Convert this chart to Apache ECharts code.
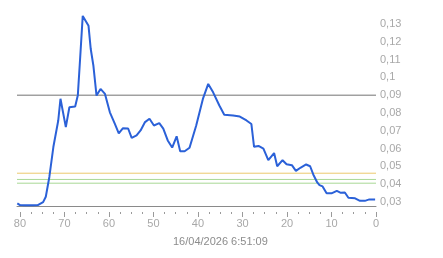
<!DOCTYPE html>
<html>
<head>
<meta charset="utf-8">
<script src="https://cdn.jsdelivr.net/npm/echarts@6/dist/echarts.min.js"></script>
<style>html,body{margin:0;padding:0;background:#fff}#c{width:443px;height:258px}</style>
</head>
<body>
<div id="c"></div>
<script>
var xValues = [80.6,80.0,79,78,77,76,74.8,74.2,73.4,72.5,71.4,70.9,69.7,68.9,67.6,67.0,66.5,65.9,64.6,64.1,63.5,62.8,61.9,60.9,59.8,58.7,57.8,56.9,55.7,54.9,53.8,52.9,51.9,50.9,49.9,48.7,47.8,46.8,45.8,44.8,44.0,43.0,41.9,40.4,38.9,37.7,36.6,35.2,34.1,32.1,30.6,29.1,28.0,27.4,26.4,25.3,24.2,22.9,22.2,21.0,20.1,18.9,18.0,16.9,15.7,14.8,14.1,13.2,12.7,12.0,11.1,10.0,8.8,7.9,7.0,6.2,4.7,3.6,2.5,1.5,0.2];
var yValues = [0.0293,0.0283,0.0282,0.0282,0.0282,0.0283,0.0300,0.0330,0.0441,0.0609,0.0758,0.0880,0.0721,0.0832,0.0836,0.0900,0.1100,0.1345,0.1289,0.1159,0.1065,0.0898,0.0935,0.0907,0.0804,0.0740,0.0686,0.0714,0.0713,0.0660,0.0674,0.0702,0.0749,0.0768,0.0730,0.0743,0.0712,0.0646,0.0606,0.0669,0.0585,0.0585,0.0605,0.0730,0.0879,0.0963,0.0916,0.0842,0.0790,0.0786,0.0780,0.0758,0.0738,0.0610,0.0615,0.0600,0.0535,0.0575,0.0501,0.0535,0.0512,0.0507,0.0475,0.0494,0.0511,0.0501,0.0455,0.0410,0.0395,0.0388,0.0349,0.0349,0.0363,0.0352,0.0354,0.0324,0.0321,0.0307,0.0307,0.0315,0.0315];
var refLevels = [0.09, 0.0462, 0.0427, 0.0406];
var refColors = ['#737373', '#ecc96e', '#a9d896', '#a9d896'];
var xTickLabels = [80,70,60,50,40,30,20,10,0];
var xMinorTicks = [77.5,75,72.5,67.5,65,62.5,57.5,55,52.5,47.5,45,42.5,37.5,35,32.5,27.5,25,22.5,17.5,15,12.5,7.5,5,2.5];
var yTickLabels = [0.03,0.04,0.05,0.06,0.07,0.08,0.09,0.1,0.11,0.12,0.13];
var dateText = '16/04/2026 6:51:09';

var X_MIN = 0, X_MAX = 80.67;
var pts = xValues.map(function(x, i){ return [x, yValues[i]]; });
var chart = echarts.init(document.getElementById('c'), null, {renderer:'canvas'});
var fontFam = 'Liberation Sans, Arial, sans-serif';
function fmtY(v){ return String(Math.round(v*100)/100).replace('.', ','); }
var refSeries = refLevels.map(function(v, i){
  return {type:'line', data:[[X_MIN, v],[X_MAX, v]], showSymbol:false, symbol:'none', silent:true,
    lineStyle:{color:refColors[i], width:1}, z:2};
});
chart.setOption({
  animation:false,
  grid:{left:17, right:67, top:15, height:191},
  xAxis:[{
    type:'value', min:X_MIN, max:X_MAX, inverse:true,
    axisLine:{show:true, lineStyle:{color:'#8a8a8a', width:1}},
    axisTick:{show:false}, axisLabel:{show:false}, splitLine:{show:false}
  },{
    type:'value', min:X_MIN, max:X_MAX, inverse:true, position:'bottom', offset:6,
    axisLine:{show:false},
    axisTick:{show:true, length:5, customValues:xTickLabels, lineStyle:{color:'#9a9a9a'}},
    axisLabel:{show:true, margin:6, customValues:xTickLabels, color:'#a8a8a8', fontSize:11, fontFamily:fontFam},
    splitLine:{show:false}
  },{
    type:'value', min:X_MIN, max:X_MAX, inverse:true, position:'bottom', offset:6,
    axisLine:{show:false},
    axisTick:{show:true, length:2, customValues:xMinorTicks, lineStyle:{color:'#9a9a9a'}},
    axisLabel:{show:false},
    splitLine:{show:false}
  }],
  yAxis:{
    type:'value', position:'right', min:0.0278, max:0.135,
    axisLine:{show:false}, axisTick:{show:false}, splitLine:{show:false},
    axisLabel:{margin:4, customValues:yTickLabels, color:'#a8a8a8', fontSize:11, fontFamily:fontFam, formatter:fmtY}
  },
  graphic:[{type:'text', left:173, top:236, style:{text:dateText, fill:'#8c8c8c', font:'11px '+fontFam}}],
  series: refSeries.concat([{
    type:'line', data:pts, showSymbol:false, symbol:'none',
    lineStyle:{color:'#2b61d8', width:2}, z:5
  }])
});
</script>
</body>
</html>
